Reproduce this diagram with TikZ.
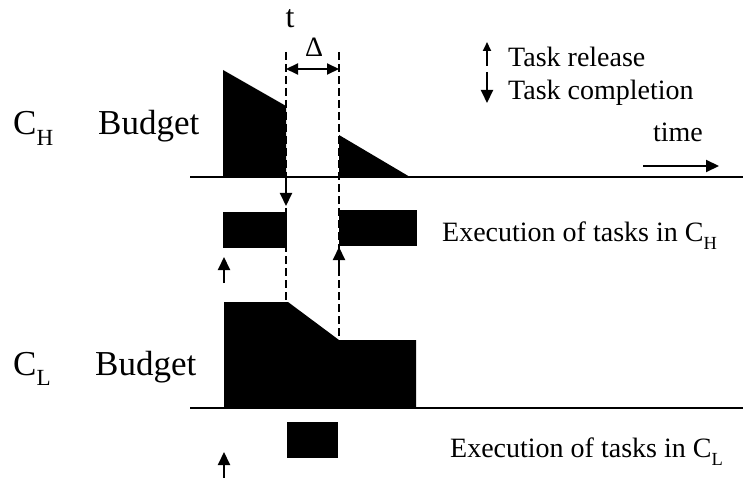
\documentclass[tikz,border=0pt]{standalone}
\usepackage{fontspec}
\setmainfont{Liberation Serif}
\usetikzlibrary{arrows.meta}

\newcommand\lowsub[1]{\raisebox{-0.3em}{\scalebox{0.66}{#1}}}

\begin{document}
\begin{tikzpicture}[x=1pt,y=-1pt,
    biglabel/.style={inner sep=0pt,anchor=base west,font=\fontsize{35}{38}\selectfont},
    smalllabel/.style={inner sep=0pt,anchor=base west,font=\fontsize{28}{30}\selectfont},
    axisline/.style={line width=2.4pt},
    guide/.style={line width=2.2pt,dash pattern=on 8pt off 4pt},
    relarrow/.style={line width=2pt,-{Triangle[length=13pt,width=12pt]}},
    legarrow/.style={line width=2pt,-{Triangle[length=9pt,width=8pt]}}]

      \useasboundingbox (0,0) rectangle (743,478);

      % labels
      \begin{scope}[every node/.style={biglabel}]
        \node (ch)  at (13,135) {C\lowsub{H}};
        \node (bh)  at (98,135) {Budget};
        \node (cl)  at (13,375) {C\lowsub{L}};
        \node (bl)  at (95,375) {Budget};
      \end{scope}

      \begin{scope}[every node/.style={smalllabel}]
        \node[anchor=base,font=\fontsize{32}{34}\selectfont] (t) at (290,28) {t};
        \node[anchor=base] (delta) at (314,57) {Δ};
        \node (rel)   at (508,67)  {Task release};
        \node (comp)  at (508,100) {Task completion};
        \node[anchor=base] (time) at (678,142) {time};
        \node (exh)   at (442,241) {Execution of tasks in C\lowsub{H}};
        \node (exl)   at (450,457) {Execution of tasks in C\lowsub{L}};
      \end{scope}

      % budgets and executions
      \fill (223,177) -- (223,70) -- (286,106) -- (286,177) -- cycle;
      \fill (339,177) -- (339,135) -- (410,177) -- cycle;
      \fill (223,212) rectangle (287,248);
      \fill (339,210) rectangle (417,246);
      \fill (224,408) -- (224,302) -- (288,302) -- (339,340) -- (416,340) -- (416,408) -- cycle;
      \fill (287,422) rectangle (338,458);

      % points
      \coordinate (hs) at (190,177);
      \coordinate (he) at (743,177);
      \coordinate (ls) at (190,408);
      \coordinate (le) at (743,408);
      \coordinate (gl) at (286,52);
      \coordinate (gr) at (339,52);
      \coordinate (glb) at (286,302);
      \coordinate (grb) at (339,340);
      \coordinate (da) at (286,69);
      \coordinate (db) at (339,69);
      \coordinate (c1) at (286,177);
      \coordinate (c1e) at (286,206);
      \coordinate (r1) at (224,283);
      \coordinate (r1e) at (224,257);
      \coordinate (r2) at (339,276);
      \coordinate (r2e) at (339,247);
      \coordinate (r3) at (224,478);
      \coordinate (r3e) at (224,452);
      \coordinate (lu) at (487,66);
      \coordinate (lue) at (487,42);
      \coordinate (ld) at (487,72);
      \coordinate (lde) at (487,103);
      \coordinate (ts) at (643,166);
      \coordinate (te) at (719,166);

      \draw[axisline] (hs) -- (he);
      \draw[axisline] (ls) -- (le);
      \draw[guide] (gl) -- (glb);
      \draw[guide] (gr) -- (grb);
      \draw[line width=2pt,{Triangle[length=12pt,width=11pt]}-{Triangle[length=12pt,width=11pt]}] (da) -- (db);

      \draw[relarrow] (c1) -- (c1e);
      \draw[relarrow] (r1) -- (r1e);
      \draw[relarrow] (r2) -- (r2e);
      \draw[relarrow] (r3) -- (r3e);
      \draw[legarrow] (lu) -- (lue);
      \draw[relarrow] (ld) -- (lde);
      \draw[relarrow] (ts) -- (te);

    \end{tikzpicture}
\end{document}
